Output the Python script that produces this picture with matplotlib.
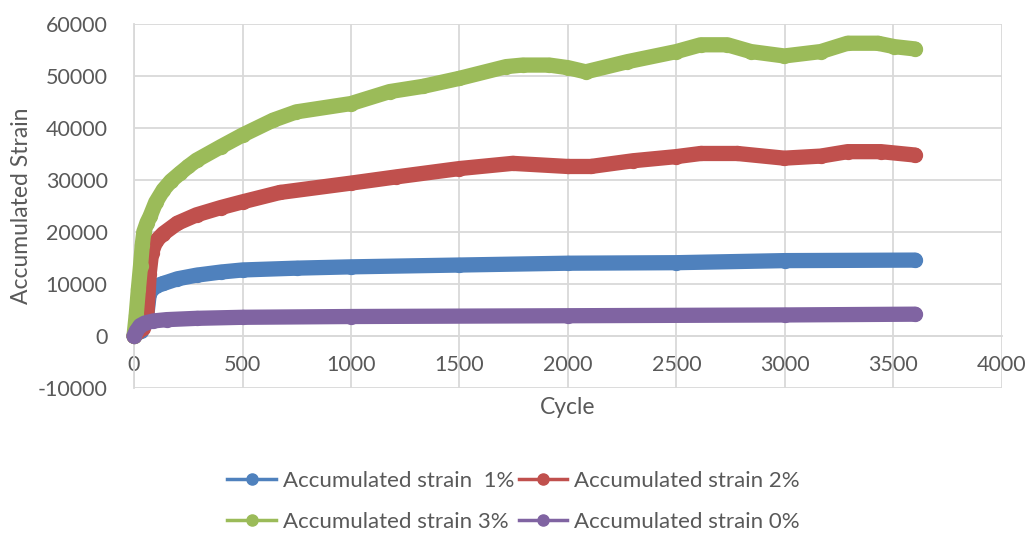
import matplotlib
matplotlib.use("Agg")
import matplotlib.pyplot as plt
from matplotlib.lines import Line2D

# values
cycle_1 = [0, 30, 58, 70, 81, 100, 135, 200, 288, 400, 500, 750, 1000, 1500, 2000, 2500, 3000, 3600]
strain_1 = [0, 1000, 3700, 8000, 9000, 9600, 10100, 11000, 11700, 12300, 12700, 13050, 13300,
            13650, 14000, 14100, 14500, 14600]

cycle_2 = [0, 40, 58, 70, 81, 100, 135, 200, 288, 400, 500, 672, 1000, 1209, 1500, 1745, 2000,
           2105, 2300, 2500, 2612, 2781, 2997, 3166, 3289, 3443, 3600]
strain_2 = [0, 1500, 3000, 12000, 16000, 18200, 19700, 21700, 23300, 24700, 25800, 27600,
            29400, 30600, 32200, 33200, 32600, 32600, 33700, 34500, 35100, 35100, 34200,
            34600, 35450, 35450, 34800]

cycle_3 = [0, 10, 20, 30, 38, 45, 60, 74, 100, 135, 170, 212, 250, 288, 400, 500, 641, 748,
           1000, 1178, 1331, 1500, 1715, 1791, 1914, 2000, 2082, 2274, 2500, 2612, 2735,
           2843, 2997, 3166, 3289, 3428, 3505, 3600]
strain_3 = [0, 4000, 9000, 13500, 17500, 20000, 21800, 23000, 25700, 28100, 29800, 31300,
            32600, 33800, 36400, 38650, 41500, 43100, 44700, 47000, 48000, 49550, 51800,
            52100, 52100, 51600, 50800, 52750, 54700, 56000, 56000, 54700, 53850, 54700,
            56300, 56300, 55640, 55200]

cycle_0 = [0, 10, 28, 50, 89, 150, 288, 500, 1000, 2000, 3000, 3600]
strain_0 = [0, 900, 2000, 2500, 2900, 3150, 3400, 3600, 3750, 3900, 4050, 4200]

labels = ["Accumulated strain  1%", "Accumulated strain 2%",
          "Accumulated strain 3%", "Accumulated strain 0%"]
colors = ["#4F81BD", "#C0504D", "#9BBB59", "#8064A2"]
xticks = [0, 500, 1000, 1500, 2000, 2500, 3000, 3500, 4000]
yticks = [-10000, 0, 10000, 20000, 30000, 40000, 50000, 60000]

plt.rcParams['font.family'] = ['Lato', 'DejaVu Sans']
plt.rcParams['axes.unicode_minus'] = False
text_color = "#595959"
grid_color = "#D9D9D9"

fig = plt.figure(figsize=(10.27, 5.33), dpi=100)
ax = fig.add_axes([0.1305, 0.272, 0.845, 0.683])

series = [(cycle_1, strain_1), (cycle_2, strain_2), (cycle_3, strain_3), (cycle_0, strain_0)]
for (xs, ys), col in zip(series, colors):
    ax.plot(xs, ys, color=col, lw=11, marker='o', ms=11, mew=0, mfc=col,
            solid_capstyle='round', solid_joinstyle='round', clip_on=False, zorder=3)

ax.set_xlim(0, 4000)
ax.set_ylim(-10000, 60000)
ax.set_xticks(xticks)
ax.set_yticks(yticks)
ax.grid(True, color=grid_color, lw=1.3)
ax.set_axisbelow(True)

for side in ['top', 'right']:
    ax.spines[side].set_visible(False)
ax.spines['bottom'].set_position(('data', 0))
ax.spines['bottom'].set_color(grid_color)
ax.spines['bottom'].set_linewidth(1.3)
ax.spines['left'].set_color(grid_color)
ax.spines['left'].set_linewidth(1.3)

ax.tick_params(axis='both', length=0, labelsize=15.5, colors=text_color)
ax.tick_params(axis='x', pad=14)
ax.tick_params(axis='y', pad=19)

ax.set_xlabel("Cycle", fontsize=16.5, color=text_color)
ax.xaxis.set_label_coords(0.5, -0.025)
ax.set_ylabel("Accumulated Strain", fontsize=16.5, color=text_color)
ax.yaxis.set_label_coords(-0.118, 0.5)

handles = [Line2D([], [], color=c, lw=2.5, marker='o', ms=8) for c in colors]
order = [0, 2, 1, 3]
fig.legend([handles[i] for i in order], [labels[i] for i in order],
           loc='lower center', bbox_to_anchor=(0.5, -0.035), ncol=2, frameon=False,
           fontsize=16, labelcolor=text_color, handlelength=2.2, handletextpad=0.3,
           columnspacing=0.2, labelspacing=0.95)

fig.savefig("out.png", dpi=100)
